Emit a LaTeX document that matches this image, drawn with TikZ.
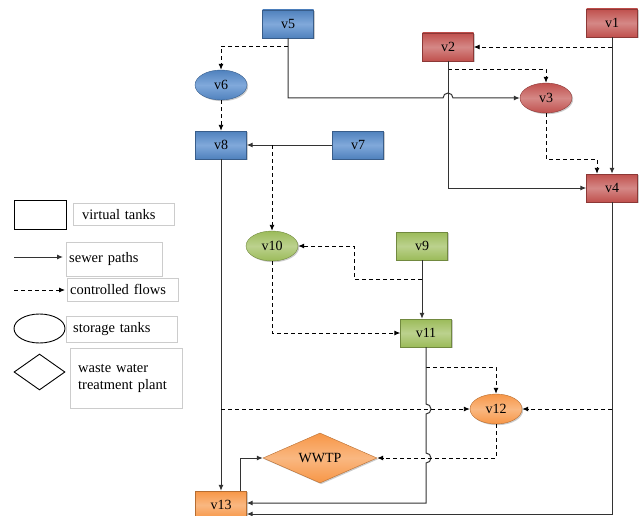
\documentclass[tikz,border=0pt]{standalone}
\usepackage{fontspec}
\setmainfont{Liberation Serif}
\usetikzlibrary{shapes.geometric,shadows,arrows.meta}
\definecolor{blueb}{HTML}{4F81BD}
\definecolor{bluel}{HTML}{8DB3E2}
\definecolor{blued}{HTML}{385D8A}
\definecolor{redb}{HTML}{C0504D}
\definecolor{redl}{HTML}{DA9694}
\definecolor{redd}{HTML}{8C3836}
\definecolor{greenb}{HTML}{9BBB59}
\definecolor{greenl}{HTML}{C4D79B}
\definecolor{greend}{HTML}{71893F}
\definecolor{orangeb}{HTML}{F79646}
\definecolor{orangel}{HTML}{FAC090}
\definecolor{oranged}{HTML}{B66D31}

\tikzset{
  vtank/.style={rectangle, minimum width=51pt, minimum height=28pt, inner sep=1pt},
  stank/.style={ellipse, minimum width=52pt, minimum height=30pt, inner sep=1pt},
  plant/.style={diamond, aspect=2.3, minimum width=114pt, minimum height=50pt, inner sep=0pt},
  tankshadow/.style={drop shadow={shadow xshift=1.2pt, shadow yshift=-1.2pt, fill=black!40}},
  bluef/.style={draw=blued, top color=blueb, bottom color=blueb, middle color=bluel!80!blueb, tankshadow},
  redf/.style={draw=redd, top color=redb, bottom color=redb, middle color=redl!80!redb, tankshadow},
  greenf/.style={draw=greend, top color=greenb, bottom color=greenb, middle color=greenl!80!greenb, tankshadow},
  orangef/.style={draw=oranged, top color=orangeb, bottom color=orangeb, middle color=orangel!80!orangeb, tankshadow},
  sewer/.style={->, black!80, line width=1pt},
  ctrl/.style={->, black, dash pattern=on 4pt off 3pt, line width=0.9pt},
  legbox/.style={draw=black!20, anchor=north west, align=left, inner ysep=0pt, font=\fontsize{14.5}{17}\selectfont}
}

\begin{document}
\begin{tikzpicture}[x=1pt, y=-1pt, font=\fontsize{14}{16}\selectfont, >={Latex[length=6pt,width=5pt]}]
    \useasboundingbox (0,0) rectangle (639,516);

    % red tanks
    \node[vtank, redf] (v1) at (612,23) {v1};
    \node[vtank, redf] (v2) at (448,47) {v2};
    \node[stank, redf] (v3) at (546,98) {v3};
    \node[vtank, redf] (v4) at (612,188) {v4};

    % blue tanks
    \node[vtank, bluef] (v5) at (288,24) {v5};
    \node[stank, bluef] (v6) at (221,85) {v6};
    \node[vtank, bluef] (v7) at (358,145) {v7};
    \node[vtank, bluef] (v8) at (221,145) {v8};

    % green tanks
    \node[vtank, greenf] (v9) at (422,246) {v9};
    \node[stank, greenf] (v10) at (272,246) {v10};
    \node[vtank, greenf] (v11) at (426,333) {v11};

    % orange tanks
    \node[stank, orangef] (v12) at (496,409) {v12};
    \node[plant, orangef] (ww) at (320,458) {WWTP};
    \node[vtank, orangef] (v13) at (221,505) {v13};

    % red part
    \draw[sewer] (v1.south) -- (v4.north);
    \draw[ctrl] (v1.south |- v2.east) -- (v2.east);
    \draw[ctrl] ([yshift=-8pt]v2.south) -| (v3.north);
    \draw[sewer] (v2.south) |- (v4.west);
    \draw[ctrl] (v3.south) -- ++(0,46) -| ([xshift=-15pt]v4.north);

    % blue part
    \draw[sewer] (v5.south) -- (v5.south |- v3.west) -- ([xshift=-5pt]v2.south |- v3.west)
      arc[start angle=180, end angle=360, radius=5] -- (v3.west);
    \draw[ctrl] ([yshift=-8pt]v5.south) -| (v6.north);
    \draw[ctrl] (v6.south) -- (v8.north);
    \draw[sewer] (v7.west) -- (v8.east);
    \draw[ctrl] (v10.north |- v7.west) -- (v10.north);
    \draw[sewer] (v8.south) -- (v13.north);

    % green part
    \draw[sewer] (v9.south) -- (v9.south |- v11.north);
    \draw[ctrl] ([yshift=-19pt]v9.south) -- ++(-68,0) |- (v10.east);
    \draw[ctrl] (v10.south) |- (v11.west);
    \draw[ctrl] ([yshift=-20pt]v11.south) -| (v12.north);
    \draw[sewer] (v11.south) -- (426,404) arc[start angle=270, end angle=450, radius=5]
      -- (426,453) arc[start angle=270, end angle=450, radius=5] |- ([yshift=2pt]v13.east);

    % orange part
    \draw[ctrl] (v8.south |- v12.west) -- (v12.west);
    \draw[ctrl] (v4.south |- v12.east) -- (v12.east);
    \draw[ctrl] (v12.south) |- (ww.east);
    \draw[sewer] ([xshift=19pt]v13.north) |- (ww.west);
    \draw[sewer] (v4.south) |- ([yshift=-9pt]v13.east);

    % legend
    \node[draw, line width=0.9pt, minimum width=52pt, minimum height=29pt, anchor=north west] (lgrect) at (14,200) {};
    \node[legbox, inner xsep=9pt, text width=83pt, minimum height=22pt] (lgvt) at (73,203) {virtual tanks};
    \coordinate (lgsa) at (14,257);
    \coordinate (lgsb) at (63,257);
    \draw[sewer] (lgsa) -- (lgsb);
    \node[legbox, inner xsep=3pt, text width=90pt, minimum height=34pt] (lgsp) at (66,242) {sewer paths};
    \coordinate (lgca) at (14,290);
    \coordinate (lgcb) at (65,290);
    \draw[ctrl] (lgca) -- (lgcb);
    \node[legbox, inner xsep=3pt, text width=105pt, minimum height=23pt] (lgcf) at (67,278) {controlled flows};
    \node[draw, ellipse, line width=0.9pt, minimum width=51pt, minimum height=29pt] (lgell) at (39.5,328.5) {};
    \node[legbox, inner xsep=7pt, text width=97pt, minimum height=26pt] (lgst) at (66,316) {storage tanks};
    \node[draw, diamond, aspect=1.4, line width=0.9pt, minimum width=51pt, minimum height=36pt, inner sep=0pt] (lgdia) at (39.5,372) {};
    \node[legbox, inner xsep=8pt, text width=96pt, minimum height=60pt] (lgww) at (70,348) {waste water\\treatment plant};
\end{tikzpicture}
\end{document}
